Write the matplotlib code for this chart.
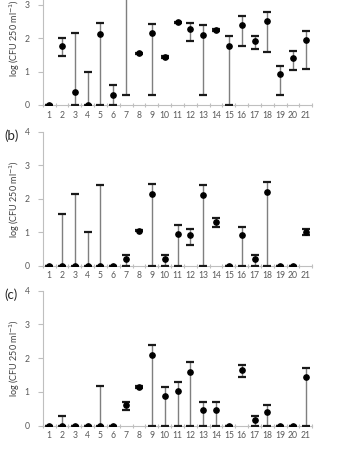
import matplotlib
matplotlib.use("Agg")
import matplotlib.pyplot as plt
import numpy as np

sites = list(range(1, 22))
tick_labels = [str(s) for s in sites]
y_ticks = [0, 1, 2, 3, 4]

# Panel (a): mean, lower bound, upper bound  (log CFU 250 ml-1)
mean_a = [0.00, 1.78, 0.40, 0.00, 2.12, 0.30, 3.60, 1.55, 2.15, 1.45, 2.48,
          2.28, 2.11, 2.25, 1.78, 2.41, 1.92, 2.51, 0.93, 1.42, 1.96]
low_a = [0.00, 1.47, 0.00, 0.00, 0.00, 0.00, 0.30, 1.53, 0.30, 1.42, 2.46,
         1.91, 0.30, 2.23, 0.00, 1.78, 1.69, 1.59, 0.30, 1.05, 1.08]
high_a = [0.00, 2.01, 2.15, 1.00, 2.47, 0.60, 4.20, 1.57, 2.43, 1.48, 2.50,
          2.47, 2.41, 2.27, 2.08, 2.65, 2.08, 2.78, 1.17, 1.61, 2.23]

# Panel (b)
mean_b = [0.00, 0.00, 0.00, 0.00, 0.00, 0.00, 0.19, 1.05, 2.14, 0.19, 0.94,
          0.91, 2.11, 1.30, 0.00, 0.91, 0.19, 2.20, 0.00, 0.00, 1.01]
low_b = [0.00, 0.00, 0.00, 0.00, 0.00, 0.00, 0.00, 1.03, 0.00, 0.00, 0.00,
         0.61, 0.00, 1.15, 0.00, 0.00, 0.00, 0.00, 0.00, 0.00, 0.92]
high_b = [0.00, 1.55, 2.15, 1.00, 2.41, 0.00, 0.31, 1.07, 2.43, 0.31, 1.21,
          1.09, 2.40, 1.43, 0.00, 1.17, 0.31, 2.50, 0.00, 0.00, 1.09]

# Panel (c)
mean_c = [0.00, 0.00, 0.00, 0.00, 0.00, 0.00, 0.62, 1.15, 2.09, 0.88, 1.03,
          1.59, 0.48, 0.48, 0.00, 1.65, 0.18, 0.40, 0.00, 0.00, 1.43]
low_c = [0.00, 0.00, 0.00, 0.00, 0.00, 0.00, 0.48, 1.13, 0.00, 0.00, 0.00,
         0.00, 0.00, 0.00, 0.00, 1.45, 0.00, 0.00, 0.00, 0.00, 0.00]
high_c = [0.00, 0.30, 0.00, 0.00, 1.17, 0.00, 0.70, 1.17, 2.38, 1.15, 1.30,
          1.89, 0.70, 0.70, 0.00, 1.79, 0.30, 0.61, 0.00, 0.00, 1.71]

panels = [
    ("", mean_a, low_a, high_a),
    ("(b)", mean_b, low_b, high_b),
    ("(c)", mean_c, low_c, high_c),
]

W, H = 337, 450
fig = plt.figure(figsize=(W / 100, H / 100), dpi=100)
plt.rcParams['font.family'] = ['Lato', 'DejaVu Sans']

# pixel geometry: (y pixel of zero, pixels per unit)
geoms = [(105.0, 33.4), (265.7, 33.5), (425.7, 33.75)]
x_left, x_right = 42.7, 312.3

tick_col = '#595959'
spine_col = '#bfbfbf'

for (lab, m, lo, hi), (y0, ppu) in zip(panels, geoms):
    top = y0 - 4 * ppu
    ax = fig.add_axes([x_left / W, 1 - y0 / H, (x_right - x_left) / W, (y0 - top) / H])
    m = np.array(m); lo = np.array(lo); hi = np.array(hi)
    yerr = np.vstack([m - lo, hi - m])
    _, caps, bars = ax.errorbar(sites, m, yerr=yerr, fmt='o', color='black',
                                markersize=3.8, ecolor='#7f7f7f', elinewidth=1.0,
                                capsize=3.2, capthick=1.6, zorder=3, clip_on=True)
    for c in caps:
        c.set_color('#1a1a1a')
        c.set_markeredgecolor('#1a1a1a')
        c.set_markerfacecolor('#1a1a1a')
    ax.set_xlim(0.5, 21.5)
    ax.set_ylim(0, 4)
    ax.set_yticks(y_ticks)
    ax.set_yticklabels([str(t) for t in y_ticks])
    ax.set_xticks(sites)
    ax.set_xticklabels(tick_labels)
    ax.set_xticks(np.arange(0.5, 22.0, 1.0), minor=True)
    ax.tick_params(axis='x', which='major', length=0, pad=4, labelsize=6.2,
                   labelcolor=tick_col)
    ax.tick_params(axis='x', which='minor', length=3, width=0.8, color=spine_col,
                   direction='inout')
    ax.tick_params(axis='y', which='major', length=3.5, width=0.8, color=spine_col,
                   pad=6, labelsize=6.2, labelcolor=tick_col)
    for s in ['top', 'right']:
        ax.spines[s].set_visible(False)
    for s in ['left', 'bottom']:
        ax.spines[s].set_color(spine_col)
        ax.spines[s].set_linewidth(0.8)
    ax.set_ylabel('log (CFU 250 ml$^{-1}$)', fontsize=6.5, color='#404040', labelpad=2)
    if lab:
        fig.text(4 / W, 1 - (top + 4.5) / H, lab, fontsize=9.5, color='#262626',
                 va='center', ha='left')

fig.savefig('out.png', dpi=100)
